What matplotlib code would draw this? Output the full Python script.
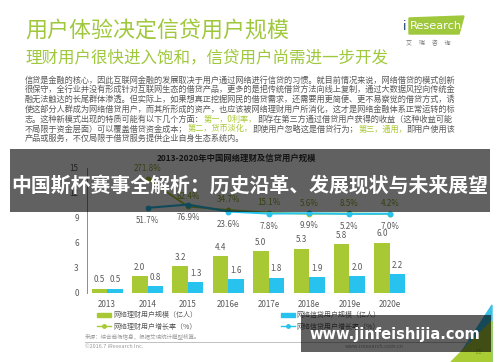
import matplotlib
matplotlib.use("Agg")
import matplotlib.pyplot as plt
from matplotlib.patches import Polygon, Rectangle, Patch
from matplotlib.lines import Line2D
import numpy as np

plt.rcParams["font.family"] = ["Noto Sans CJK SC", "DejaVu Sans"]

GREEN, BLUE = "#a8c934", "#27c3ee"
TITLE_G, INK, GREY, LIGHT = "#9fc83c", "#333333", "#595959", "#9a9a9a"

# ---- data ----
years = ["2013", "2014", "2015", "2016e", "2017e", "2018e", "2019e", "2020e"]
licai_users = [0.5, 2.0, 3.2, 4.4, 5.0, 5.3, 5.8, 6.0]       # 亿人
xindai_users = [0.5, 0.8, 1.3, 1.6, 1.8, 1.9, 2.0, 2.2]      # 亿人
licai_growth = [271.8, 62.4, 34.7, 15.1, 5.6, 8.5, 4.2]       # %, 2014-2020e
xindai_growth = [51.7, 76.9, 23.6, 7.8, 9.9, 5.2, 7.0]        # %, 2014-2020e
yticks = [0, 3, 6, 9, 12, 15]

body = [
    [("信贷是金融的核心，因此互联网金融的发展取决于用户通过网络进行信贷的习惯。就目前情况来说，网络借贷的模式创新", GREY)],
    [("很保守，全行业并没有形成针对互联网生态的借贷产品，更多的是把传统借贷方法向线上复制，通过大数据风控向传统金", GREY)],
    [("融无法触达的长尾群体渗透。但实际上，如果想真正挖掘网民的借贷需求，还需要用更简便、更不易察觉的借贷方式，诱", GREY)],
    [("使这部分人群成为网络借贷用户，而其所形成的资产，也应该被网络理财用户所消化，这才是网络金融体系正常运转的标", GREY)],
    [("志。这种新模式出现的特质可能有以下几个方面：", GREY), ("第一，0利率，", GREEN),
     ("即存在第三方通过借贷用户获得的收益（这种收益可能", GREY)],
    [("不局限于资金层面）可以覆盖借贷资金成本；", GREY), ("第二，货币淡化，", GREEN),
     ("即使用户忽略这是借贷行为；", GREY), ("第三，通用，", GREEN), ("即用户使用该", GREY)],
    [("产品或服务，不仅局限于借贷服务提供企业自身生态系统内。", GREY)],
]

W, H = 500, 362
fig = plt.figure(figsize=(5, 3.62), dpi=100)
fig.patch.set_facecolor("white")

# background layer in pixel coordinates
bg = fig.add_axes([0, 0, 1, 1])
bg.set_xlim(0, W); bg.set_ylim(H, 0); bg.axis("off")

bg.text(25, 32, "用户体验决定信贷用户规模", fontsize=15.8, color=TITLE_G, va="center")
bg.text(25, 58, "理财用户很快进入饱和，信贷用户尚需进一步开发", fontsize=11.9, color=TITLE_G, va="center")

# iResearch logo
bg.add_patch(Polygon([(409, 18), (464, 16), (459, 34), (409, 34)], color=TITLE_G))
bg.text(403, 26, "i", fontsize=9, color="#1f3f78", va="center", family="DejaVu Sans")
bg.text(410, 26, "Research", fontsize=8.2, color="white", va="center", family="DejaVu Sans")
bg.text(406, 43, "艾     瑞     咨     询", fontsize=4.3, color="#777777", va="center")

r = fig.canvas.get_renderer()
for i, segs in enumerate(body):
    x = 25
    for s, c in segs:
        t = bg.text(x, 80 + i * 9.8, s, fontsize=5.9, color=c, va="center")
        x += t.get_window_extent(r).width

bg.text(236, 158, "2013-2020年中国网络理财及信贷用户规模", fontsize=6, color=INK,
        weight="bold", ha="center", va="center")

bg.text(85, 337, "来源：综合商场信息，根据艾瑞统计模型核算。", fontsize=4, color=LIGHT, va="center")
bg.plot([85, 470], [341.5, 341.5], color="#b5b5b5", lw=0.6)
bg.text(85, 347, "©2016.7 iResearch Inc.", fontsize=4, color=LIGHT, va="center")
bg.text(345, 347, "www.iresearch.com.cn", fontsize=4, color=LIGHT, va="center")
bg.add_patch(Polygon([(455, 362), (492, 305), (492, 362)], color="#3cc1e6"))
bg.add_patch(Polygon([(451, 362), (492, 321), (492, 362)], color="#a9cc35"))
bg.text(478, 352, "11", fontsize=5, color="#7f9a2a", ha="center", va="center")

# ---- chart ----
ax = fig.add_axes([87 / W, (H - 292.7) / H, 323 / W, 125 / H], zorder=1)
ax.set_facecolor("none")
x = np.arange(len(years))
bw = 0.385
b1 = ax.bar(x - bw / 2, licai_users, bw, color=GREEN)
b2 = ax.bar(x + bw / 2, xindai_users, bw, color=BLUE)
for bars, vals in ((b1, licai_users), (b2, xindai_users)):
    for b, v in zip(bars, vals):
        ax.annotate(f"{v:.1f}", (b.get_x() + b.get_width() / 2, v), xytext=(0, 6.3),
                    textcoords="offset points", ha="center", va="center",
                    fontsize=5.8, color=GREY)
ax.set_xlim(-0.5, len(years) - 0.5)
ax.set_ylim(0, 15)
ax.set_yticks(yticks)
ax.set_xticks(x)
ax.set_xticklabels(years)
ax.tick_params(length=0, labelsize=5.8, labelcolor=GREY)
ax.tick_params(axis="y", pad=6)
ax.tick_params(axis="x", pad=5)
for s in ("top", "right", "bottom"):
    ax.spines[s].set_visible(False)
ax.spines["left"].set_color("#8c8c8c")
ax.spines["left"].set_linewidth(0.7)

ax2 = ax.twinx()
ax2.set_zorder(2)
ax2.set_ylim(-600, 360)
ax2.axis("off")
ax2.plot(x[1:], licai_growth, color=GREEN, lw=1.3, marker="o", ms=3.2)
ax2.plot(x[1:], xindai_growth, color=BLUE, lw=1.5, marker="o", ms=3.2)
for xi, v in zip(x[1:], licai_growth):
    ax2.annotate(f"{v:.1f}%", (xi, v), xytext=(0, 7.5), textcoords="offset points",
                 ha="center", va="center", fontsize=5.8, color="#8aa82a")
for xi, v in zip(x[1:], xindai_growth):
    ax2.annotate(f"{v:.1f}%", (xi, v), xytext=(0, -9), textcoords="offset points",
                 ha="center", va="center", fontsize=5.8, color=GREY)

handles = [Patch(color=GREEN), Line2D([], [], color=GREEN, marker="o", ms=2.5, lw=1),
           Patch(color=BLUE), Line2D([], [], color=BLUE, marker="o", ms=2.5, lw=1)]
labels = ["网络理财用户规模（亿人）", "网络理财用户增长率（%）",
          "网络信贷用户规模（亿人）", "网络信贷用户增长率（%）"]
fig.legend(handles, labels, loc="upper left", bbox_to_anchor=(94 / W, 1 - 308 / H),
           bbox_transform=fig.transFigure, ncol=2, frameon=False, fontsize=5,
           handlelength=2, handletextpad=0.3, columnspacing=12, labelspacing=0.45,
           borderpad=0, labelcolor=GREY)

# ---- overlays ----
ov = fig.add_axes([0, 0, 1, 1], zorder=10)
ov.set_xlim(0, W); ov.set_ylim(H, 0); ov.axis("off")
ov.add_patch(Rectangle((10, 149), 480, 63, color="black", alpha=0.62, lw=0))
ov.text(250, 185, "中国斯杯赛事全解析：历史沿革、发展现状与未来展望", fontsize=14.3,
        color="white", weight="bold", ha="center", va="center")
ov.add_patch(Rectangle((301, 315), 190, 37, color="black", alpha=0.62, lw=0))
ov.text(395, 334, "www.jinfeishijia.com", fontsize=10.5, color="white", weight="bold",
        ha="center", va="center", family="DejaVu Sans")

fig.savefig("out.png", dpi=100, facecolor="white")
